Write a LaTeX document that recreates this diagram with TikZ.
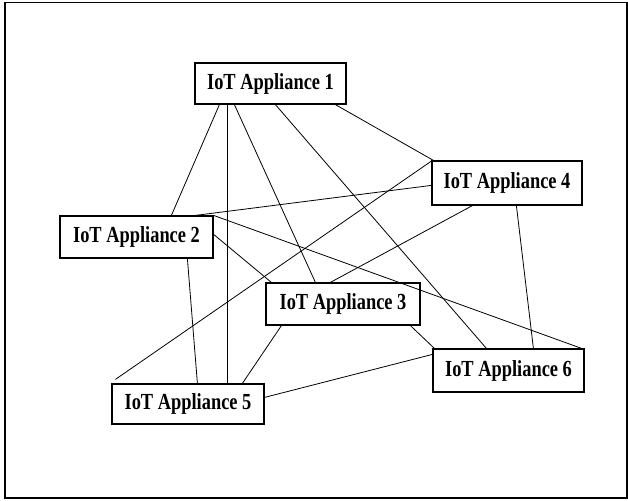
\documentclass[tikz,border=0pt]{standalone}
\usepackage{graphicx}
\usepackage{fontspec}
\setmainfont{Liberation Serif}
\begin{document}
\begin{tikzpicture}[x=1pt,y=-1pt,
  box/.style={draw, line width=1.2pt, fill=white, inner sep=0pt,
    font=\fontsize{23}{26}\selectfont\bfseries},
  link/.style={line width=0.8pt}]
\useasboundingbox (0,0) rectangle (628,500);
\draw[line width=1.3pt] (5,2.5) rectangle (627,498);

\node[box, minimum width=151pt, minimum height=41pt] (a1) at (270.5,83.5) {\scalebox{0.8}[1]{IoT Appliance 1}};
\node[box, minimum width=150pt, minimum height=44pt] (a4) at (507,183) {\scalebox{0.8}[1]{IoT Appliance 4}};
\node[box, minimum width=153pt, minimum height=42pt] (a2) at (136.5,237) {\scalebox{0.8}[1]{IoT Appliance 2}};
\node[box, minimum width=154pt, minimum height=42pt] (a3) at (343,304) {\scalebox{0.8}[1]{IoT Appliance 3}};
\node[box, minimum width=151pt, minimum height=43pt] (a6) at (508.5,370.5) {\scalebox{0.8}[1]{IoT Appliance 6}};
\node[box, minimum width=152pt, minimum height=40pt] (a5) at (188,404) {\scalebox{0.8}[1]{IoT Appliance 5}};

% from Appliance 1
\draw[link] ([xshift=25pt]a1.south west) -- ([xshift=112pt]a2.north west);
\draw[link] ([xshift=33pt]a1.south west) -- ([xshift=116pt]a5.north west);
\draw[link] ([xshift=40pt]a1.south west) -- ([xshift=50pt]a3.north west);
\draw[link] ([xshift=81pt]a1.south west) -- ([xshift=54pt]a6.north west);
\draw[link] ([xshift=141pt]a1.south west) -- ([xshift=2pt]a4.north west);
% from Appliance 4
\draw[link] ([yshift=-25pt]a4.north west) -- ([xshift=136pt]a2.north west);
\draw[link] ([xshift=1pt]a4.north west) -- ([xshift=4pt,yshift=4pt]a5.north west);
\draw[link] ([xshift=41pt]a4.south west) -- ([xshift=65pt]a3.north west);
\draw[link] ([xshift=85pt]a4.south west) -- ([xshift=101pt]a6.north west);
% from Appliance 2
\draw[link] (a2.north east) -- ([xshift=-3pt]a6.north east);
\draw[link] ([yshift=-19pt]a2.north east) -- ([xshift=6pt]a3.north west);
\draw[link] ([xshift=128pt]a2.south west) -- ([xshift=86pt]a5.north west);
% from Appliance 3
\draw[link] ([xshift=16pt]a3.south west) -- ([xshift=131pt]a5.north west);
\draw[link] ([xshift=145pt]a3.south west) -- ([xshift=2pt]a6.north west);
% Appliance 5 to 6
\draw[link] ([yshift=-14pt]a5.north east) -- ([yshift=-6pt]a6.north west);
\end{tikzpicture}
\end{document}
